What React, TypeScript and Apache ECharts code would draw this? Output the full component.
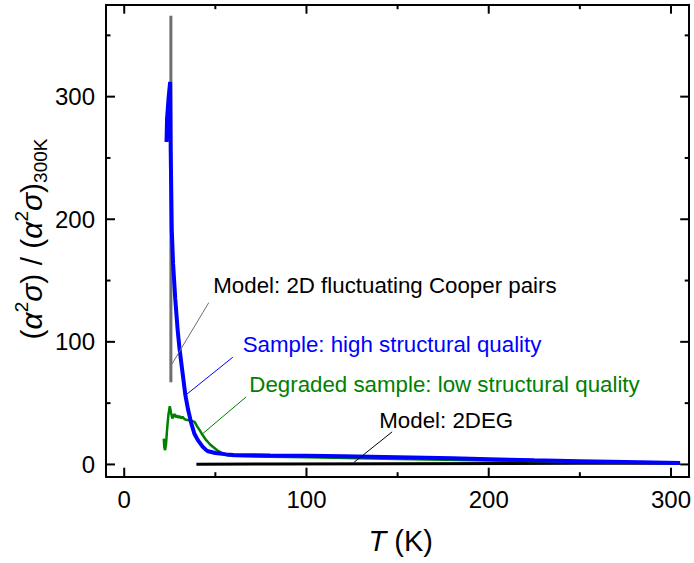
import React, { useEffect, useRef } from "react";
import * as echarts from "echarts";

// T (K), normalized (α²σ)/(α²σ)300K
const blueSample: [number, number][] = [
  [23.2, 263], [23.5, 282], [24.4, 300], [25.2, 312], [25.5, 256], [26.1, 191],
  [26.8, 164], [28, 135], [29.3, 110], [30.3, 95], [31.4, 82], [33.5, 57],
  [35, 45], [36.8, 33.5], [38.5, 25], [40.4, 19.8], [43, 14.5], [45, 11.7],
  [46, 10.8], [50, 9.3], [56, 8.2], [60, 7.7], [80, 7.3], [100, 7.0],
  [120, 6.6], [150, 5.8], [180, 5.0], [200, 4.3], [225, 3.4], [250, 2.7],
  [275, 2.0], [305, 1.1],
];

const greenSample: [number, number][] = [
  [21.7, 21], [22.0, 14], [22.4, 11.7], [22.9, 16], [23.6, 30], [24.2, 40],
  [25, 47.5], [25.7, 42], [26.4, 37.5], [27.0, 40], [27.7, 41], [28.3, 38.5],
  [29, 40], [29.8, 38], [30.5, 39.5], [31.3, 37.5], [32, 39], [33, 37],
  [34, 36.5], [35.5, 36], [37, 35.5], [38.6, 34.7], [40, 31], [41.4, 28],
  [43, 24], [45, 19.8], [47, 16.5], [48.6, 14.4], [51, 11.5], [54, 9],
  [57, 7.5], [60, 6.8], [80, 6.2], [100, 5.8], [150, 4.5], [200, 3.3],
  [250, 2.2], [305, 1.2],
];

const modelCooper: [number, number][] = [
  [25.6, 67], [25.6, 366],
];

const model2DEG: [number, number][] = [
  [39.6, 0.25], [80, 0.45], [150, 0.65], [250, 0.9], [305, 1.0],
];

// leader lines (data coordinates): [from, to]
const leaderCooper: [number, number][] = [[25.8, 81], [46.4, 132]];
const leaderBlue: [number, number][] = [[34.1, 57], [59.6, 87.5]];
const leaderGreen: [number, number][] = [[43.2, 25.3], [66.9, 55.1]];
const leader2DEG: [number, number][] = [[126, 1.6], [147, 26.6]];

const X_MIN = -10;
const X_MAX = 310;
const Y_MIN = -10;
const Y_MAX = 375;
const xMajor = [0, 100, 200, 300];
const xMinor = [50, 150, 250];
const yMajor = [0, 100, 200, 300];
const yMinor = [50, 150, 250, 350];

const W = 694;
const H = 563;
const GRID = { left: 106, right: 2.3, top: 4.7, bottom: 86.3 };

const FONT = "Arial, 'Liberation Sans', sans-serif";
const BLUE = "#0000ff";
const GREEN = "#008000";
const GRAY = "#6e6e6e";
const MAJOR_LEN = 9;
const MINOR_LEN = 4.5;

function leader(pts: [number, number][], color: string) {
  return {
    silent: true,
    symbol: ["none", "none"],
    label: { show: false },
    lineStyle: { color, width: 1, type: "solid" },
    emphasis: { disabled: true },
    data: [[{ coord: pts[0] }, { coord: pts[1] }]],
  };
}

const textGraphics = [
  {
    type: "text", x: 213.3, y: 285.6,
    style: { text: "Model: 2D fluctuating Cooper pairs", fill: "#000", fontSize: 22.3, fontFamily: FONT, align: "left", verticalAlign: "middle" },
  },
  {
    type: "text", x: 242.7, y: 344,
    style: { text: "Sample: high structural quality", fill: BLUE, fontSize: 22.3, fontFamily: FONT, align: "left", verticalAlign: "middle" },
  },
  {
    type: "text", x: 249.3, y: 384.6,
    style: { text: "Degraded sample: low structural quality", fill: GREEN, fontSize: 22.3, fontFamily: FONT, align: "left", verticalAlign: "middle" },
  },
  {
    type: "text", x: 379.3, y: 420.6,
    style: { text: "Model: 2DEG", fill: "#000", fontSize: 22.3, fontFamily: FONT, align: "left", verticalAlign: "middle" },
  },
  {
    type: "text", x: 400.8, y: 540.5,
    style: {
      text: "{i|T}{n| (K)}", align: "center", verticalAlign: "middle",
      rich: {
        i: { fontSize: 29, fontStyle: "italic", fontFamily: FONT, fill: "#000" },
        n: { fontSize: 29, fontFamily: FONT, fill: "#000" },
      },
    },
  },
  {
    type: "text", x: 31, y: 239, rotation: Math.PI / 2,
    style: {
      text: "{p|(}{a|α}{s|2}{a|σ}{p|) / (}{a|α}{s|2}{a|σ}{p|)}{b|300K}",
      align: "center", verticalAlign: "middle",
      rich: {
        p: { fontSize: 30, lineHeight: 38, fontFamily: FONT, fill: "#000", verticalAlign: "middle" },
        a: { fontSize: 30, lineHeight: 38, fontStyle: "italic", fontFamily: FONT, fill: "#000", verticalAlign: "middle" },
        s: { fontSize: 19, lineHeight: 19, fontFamily: FONT, fill: "#000", verticalAlign: "top" },
        b: { fontSize: 19, lineHeight: 19, fontFamily: FONT, fill: "#000", verticalAlign: "bottom" },
      },
    },
  },
];

export default function App() {
  const ref = useRef<HTMLDivElement>(null);
  useEffect(() => {
    document.body.style.margin = "0";
    if (!ref.current) return;
    const chart = echarts.init(ref.current, undefined, { renderer: "svg" });
    const axisLine = () => ({ show: true, onZero: false, lineStyle: { color: "#000", width: 2 } });
    chart.setOption({
      animation: false,
      backgroundColor: "#fff",
      grid: { ...GRID, containLabel: false },
      xAxis: [
        {
          type: "value", min: X_MIN, max: X_MAX, position: "bottom", splitLine: { show: false },
          axisLine: axisLine(), axisTick: { show: false },
          axisLabel: { show: true, customValues: xMajor, fontSize: 24, color: "#000", fontFamily: FONT, margin: 11 },
        },
        {
          type: "value", min: X_MIN, max: X_MAX, position: "top", splitLine: { show: false },
          axisLine: axisLine(), axisTick: { show: false }, axisLabel: { show: false },
        },
      ],
      yAxis: [
        {
          type: "value", min: Y_MIN, max: Y_MAX, position: "left", splitLine: { show: false },
          axisLine: axisLine(), axisTick: { show: false },
          axisLabel: { show: true, customValues: yMajor, fontSize: 24, color: "#000", fontFamily: FONT, margin: 11 },
        },
        {
          type: "value", min: Y_MIN, max: Y_MAX, position: "right", splitLine: { show: false },
          axisLine: axisLine(), axisTick: { show: false }, axisLabel: { show: false },
        },
      ],
      series: [
        {
          type: "line", name: "Model: 2DEG", data: model2DEG, showSymbol: false, symbol: "none",
          lineStyle: { color: "#000", width: 3 }, markLine: leader(leader2DEG, "#000"),
        },
        {
          type: "line", name: "Model: 2D fluctuating Cooper pairs", data: modelCooper, showSymbol: false, symbol: "none",
          lineStyle: { color: GRAY, width: 3 }, markLine: leader(leaderCooper, GRAY),
        },
        {
          type: "line", name: "Degraded sample", data: greenSample, showSymbol: false, symbol: "none",
          lineStyle: { color: GREEN, width: 2.5 }, markLine: leader(leaderGreen, GREEN),
        },
        {
          type: "line", name: "Sample", data: blueSample, showSymbol: false, symbol: "none",
          lineStyle: { color: BLUE, width: 4 }, markLine: leader(leaderBlue, BLUE),
        },
      ],
      graphic: textGraphics,
    });

    // inside ticks on all four sides, placed through the chart's own scales
    const toPx = (p: [number, number]) =>
      chart.convertToPixel({ xAxisIndex: 0, yAxisIndex: 0 }, p) as number[];
    const ticks: any[] = [];
    const tickLine = (x1: number, y1: number, x2: number, y2: number) => ({
      type: "line", silent: true, z: 100,
      shape: { x1, y1, x2, y2 },
      style: { stroke: "#000", lineWidth: 2 },
    });
    const addX = (vals: number[], len: number) => {
      vals.forEach((v) => {
        const b = toPx([v, Y_MIN]);
        const t = toPx([v, Y_MAX]);
        ticks.push(tickLine(b[0], b[1], b[0], b[1] - len));
        ticks.push(tickLine(t[0], t[1], t[0], t[1] + len));
      });
    };
    const addY = (vals: number[], len: number) => {
      vals.forEach((v) => {
        const l = toPx([X_MIN, v]);
        const r = toPx([X_MAX, v]);
        ticks.push(tickLine(l[0], l[1], l[0] + len, l[1]));
        ticks.push(tickLine(r[0], r[1], r[0] - len, r[1]));
      });
    };
    addX(xMajor, MAJOR_LEN);
    addX(xMinor, MINOR_LEN);
    addY(yMajor, MAJOR_LEN);
    addY(yMinor, MINOR_LEN);
    chart.setOption({ graphic: [...textGraphics, ...ticks] });

    return () => chart.dispose();
  }, []);
  return (
    <div
      ref={ref}
      style={{ position: "fixed", left: 0, top: 0, width: W, height: H, background: "#fff" }}
    />
  );
}
